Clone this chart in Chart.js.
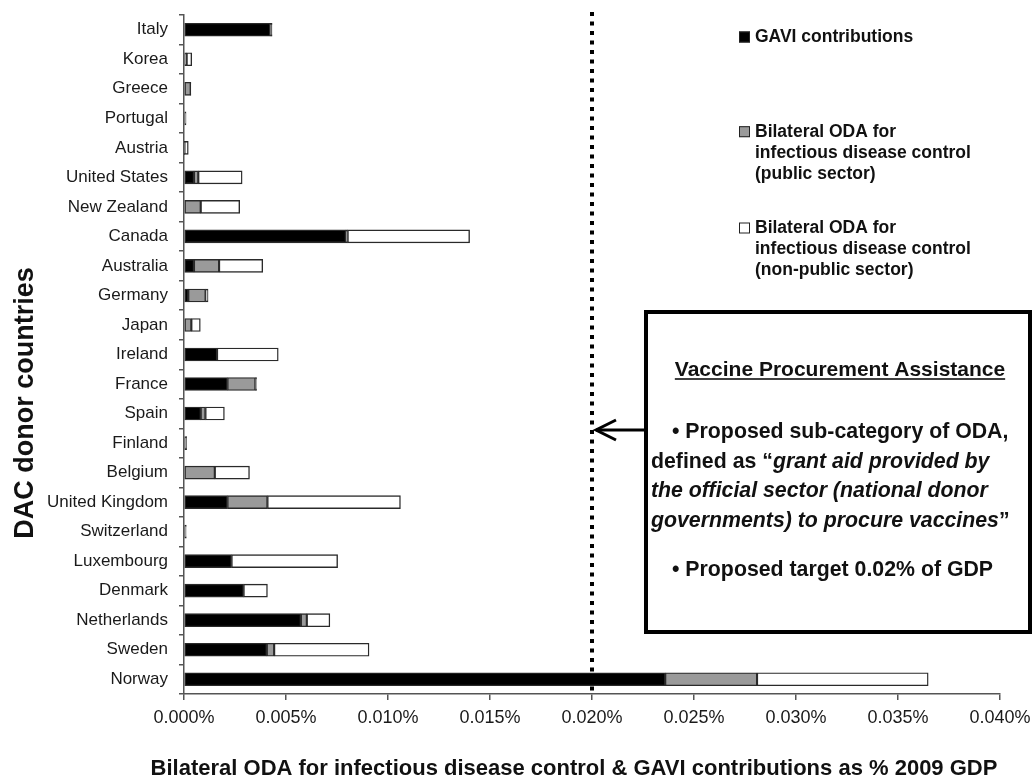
<!DOCTYPE html>
<html><head><meta charset="utf-8">
<script src="https://cdn.jsdelivr.net/npm/chart.js@4.4.0/dist/chart.umd.min.js"></script>
<style>html,body{margin:0;padding:0;background:#fff;}#wrap{width:1032px;height:778px;position:relative;}</style>
</head><body><div id="wrap"><canvas id="c"></canvas></div>
<script>
// ---- data (values in % of 2009 GDP) ----
const countries = ["Italy","Korea","Greece","Portugal","Austria","United States","New Zealand","Canada","Australia","Germany","Japan","Ireland","France","Spain","Finland","Belgium","United Kingdom","Switzerland","Luxembourg","Denmark","Netherlands","Sweden","Norway"];
const gavi = [0.00422,0,0,0,0,0.00049,0,0.00794,0.00049,0.00021,0,0.00162,0.00213,0.00082,0,0,0.00213,0,0.00233,0.00292,0.00573,0.00406,0.02359];
const bilateralPublic = [0.00008,0.00013,0.00033,0.00010,0.00002,0.00021,0.00082,0.00008,0.00123,0.00085,0.00036,0,0.00137,0.00023,0.00012,0.00151,0.00196,0.00010,0,0,0.00029,0.00036,0.00450];
const bilateralNonPublic = [0.00002,0.00025,0.00001,0,0.00019,0.00215,0.00191,0.00598,0.00214,0.00012,0.00044,0.00300,0.00006,0.00093,0.00001,0.00170,0.00652,0.00001,0.00520,0.00117,0.00113,0.00465,0.00839];
const xMin = 0, xMax = 0.04, xStep = 0.005;
const targetValue = 0.02;
const seriesLabels = [
  ["GAVI contributions"],
  ["Bilateral ODA for","infectious disease control","(public sector)"],
  ["Bilateral ODA for","infectious disease control","(non-public sector)"]
];
const xTitle = "Bilateral ODA for infectious disease control & GAVI contributions as % 2009 GDP";
const yTitle = "DAC donor countries";
const boxTitle = "Vaccine Procurement Assistance";
const boxLines = [
  [{t:"• Proposed sub-category of ODA,",i:false}],
  [{t:"defined as “",i:false},{t:"grant aid provided by",i:true}],
  [{t:"the official sector (national donor",i:true}],
  [{t:"governments) to procure vaccines",i:true},{t:"”",i:false}],
  [{t:"• Proposed target 0.02% of GDP",i:false}]
];

const FONT = "'Liberation Sans', Arial, sans-serif";
const colors = ["#000000","#9a9a9a","#ffffff"];

const overlay = {
  id:'overlay',
  beforeDatasetsDraw(chart){
    const ctx = chart.ctx, xs = chart.scales.x, ca = chart.chartArea;
    const x = xs.getPixelForValue(targetValue);
    ctx.save();
    ctx.strokeStyle = '#000'; ctx.lineWidth = 4; ctx.setLineDash([4,5.5]);
    ctx.beginPath(); ctx.moveTo(x, ca.top-3); ctx.lineTo(x, ca.bottom); ctx.stroke();
    ctx.restore();
  },
  afterDraw(chart){
    const ctx = chart.ctx, xs = chart.scales.x, ca = chart.chartArea;
    ctx.save();
    // axis titles
    ctx.fillStyle = '#111';
    ctx.font = "bold 27px " + FONT;
    ctx.translate(33, 403); ctx.rotate(-Math.PI/2);
    ctx.textAlign = 'center'; ctx.textBaseline = 'alphabetic';
    ctx.fillText(yTitle, 0, 0);
    ctx.setTransform(1,0,0,1,0,0);
    ctx.font = "bold 22px " + FONT;
    ctx.textAlign = 'center';
    ctx.fillText(xTitle, 574, 775);
    // legend
    const legY = [37, 131.7, 228];
    chart.data.datasets.forEach((ds, k) => {
      const y0 = legY[k];
      ctx.fillStyle = ds.backgroundColor;
      ctx.fillRect(739, y0-5.5, 11, 11);
      ctx.strokeStyle = '#222'; ctx.lineWidth = 1;
      ctx.strokeRect(739.5, y0-5, 10, 10);
      ctx.fillStyle = '#111';
      ctx.font = "bold 17.5px " + FONT;
      ctx.textAlign = 'left'; ctx.textBaseline = 'middle';
      seriesLabels[k].forEach((ln, j) => ctx.fillText(ln, 755, y0 + j*21));
    });
    // box
    const bx = 646, by = 312, bw = 384, bh = 320;
    ctx.fillStyle = '#fff'; ctx.fillRect(bx, by, bw, bh);
    ctx.strokeStyle = '#000'; ctx.lineWidth = 4;
    ctx.strokeRect(bx, by, bw, bh);
    // arrow
    const tx = xs.getPixelForValue(targetValue) + 2, ay = 430;
    ctx.lineWidth = 3; ctx.lineCap = 'butt';
    ctx.beginPath(); ctx.moveTo(bx-2, ay); ctx.lineTo(tx+2, ay); ctx.stroke();
    ctx.beginPath(); ctx.moveTo(tx+22, ay-10); ctx.lineTo(tx+2, ay); ctx.lineTo(tx+22, ay+10); ctx.stroke();
    // box text
    ctx.fillStyle = '#111';
    ctx.font = "bold 21px " + FONT;
    ctx.textAlign = 'center'; ctx.textBaseline = 'alphabetic';
    ctx.fillText(boxTitle, 840, 376);
    const tw = ctx.measureText(boxTitle).width;
    ctx.lineWidth = 1.6; ctx.beginPath(); ctx.moveTo(840-tw/2, 379); ctx.lineTo(840+tw/2, 379); ctx.stroke();
    ctx.textAlign = 'left';
    const lineY = [438, 467.5, 497, 526.5, 576];
    const lineX = [672, 651, 651, 651, 672];
    boxLines.forEach((segs, k) => {
      let x = lineX[k];
      segs.forEach(s => {
        ctx.font = (s.i ? "italic bold 21.3px " : "bold 21.3px ") + FONT;
        ctx.fillText(s.t, x, lineY[k]);
        x += ctx.measureText(s.t).width;
      });
    });
    ctx.restore();
  }
};

new Chart(document.getElementById('c'), {
  type: 'bar',
  data: {
    labels: countries,
    datasets: [
      {label: seriesLabels[0].join(' '), data: gavi, backgroundColor: colors[0]},
      {label: seriesLabels[1].join(' '), data: bilateralPublic, backgroundColor: colors[1]},
      {label: seriesLabels[2].join(' '), data: bilateralNonPublic, backgroundColor: colors[2]}
    ].map(d => Object.assign(d, {borderColor:'#2a2a2a', borderWidth:1.4, borderSkipped:false, barThickness:13}))
  },
  options: {
    indexAxis: 'y', responsive: true, maintainAspectRatio: false, animation: false,
    layout: {padding: {top: 15, right: 32, bottom: 0, left: 0}},
    plugins: {legend: {display:false}, tooltip: {enabled:false}},
    scales: {
      y: {
        stacked: true,
        grid: {drawOnChartArea:false, tickLength:5, color:'#555', lineWidth:1.5, offset:true},
        border: {color:'#555', width:1.5},
        ticks: {font:{family:FONT, size:17}, color:'#1a1a1a', padding:11, autoSkip:false},
        afterFit(s){ s.width = 184; s.paddingTop = 0; s.paddingBottom = 0; }
      },
      x: {
        stacked: true, min: xMin, max: xMax,
        grid: {drawOnChartArea:false, tickLength:6, color:'#555', lineWidth:1.5},
        border: {color:'#555', width:1.5},
        ticks: {stepSize: xStep, font:{family:FONT, size:18}, color:'#1a1a1a', padding:7,
                callback: v => v.toFixed(3) + '%'},
        afterFit(s){ s.height = 84; s.paddingLeft = 0; s.paddingRight = 0; }
      }
    }
  },
  plugins: [overlay]
});
</script></body></html>
